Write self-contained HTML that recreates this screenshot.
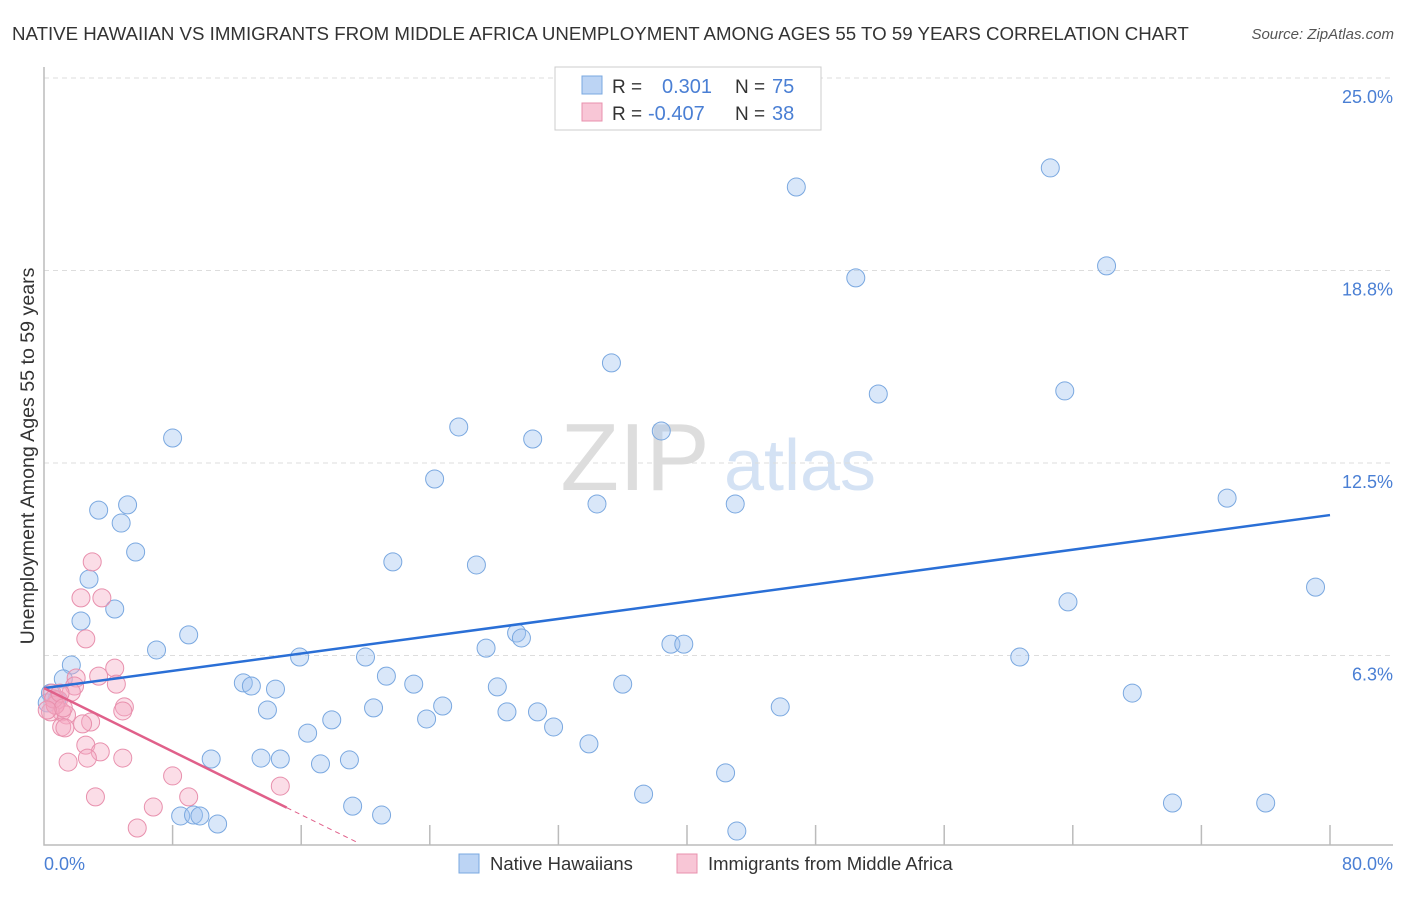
<!DOCTYPE html>
<html><head><meta charset="utf-8"><style>
body{margin:0;background:#fff;font-family:"Liberation Sans",sans-serif}
svg text{font-family:"Liberation Sans",sans-serif}
</style></head><body>
<svg id="c" width="1406" height="892">
<text x="12" y="40" font-size="18.7" fill="#333">NATIVE HAWAIIAN VS IMMIGRANTS FROM MIDDLE AFRICA UNEMPLOYMENT AMONG AGES 55 TO 59 YEARS CORRELATION CHART</text>
<text x="1394" y="39" font-size="15" fill="#555" text-anchor="end" font-style="italic">Source: ZipAtlas.com</text>
<g><text x="635" y="490" font-size="96" fill="#ddd" text-anchor="middle" font-family="Liberation Serif">ZIP</text><text x="800" y="490" font-size="72" fill="#d4e2f4" text-anchor="middle">atlas</text></g>
<g id="grid"></g><g id="axes"></g><g id="pts"></g><g id="trend"></g>
<text transform="translate(34,456) rotate(-90)" font-size="19.6" fill="#333" text-anchor="middle">Unemployment Among Ages 55 to 59 years</text>
<text x="44" y="870" font-size="18" fill="#4a7fd4">0.0%</text>
<text x="1393" y="870" font-size="18" fill="#4a7fd4" text-anchor="end">80.0%</text>
<g>
<rect x="555" y="67" width="266" height="63" fill="#fff" stroke="#ccc"/>
<rect x="582" y="76" width="20" height="18" fill="#bcd4f4" stroke="#7aa8e0"/>
<rect x="582" y="103" width="20" height="18" fill="#f8c6d6" stroke="#e890ad"/>
<text x="612" y="93" font-size="19" fill="#333">R =</text><text x="662" y="93" font-size="20" fill="#4a7fd4">0.301</text>
<text x="735" y="93" font-size="19" fill="#333">N =</text><text x="772" y="93" font-size="20" fill="#4a7fd4">75</text>
<text x="612" y="120" font-size="19" fill="#333">R =</text><text x="648" y="120" font-size="20" fill="#4a7fd4">-0.407</text>
<text x="735" y="120" font-size="19" fill="#333">N =</text><text x="772" y="120" font-size="20" fill="#4a7fd4">38</text>
</g>
<g>
<rect x="459" y="854" width="20" height="19" fill="#bcd4f4" stroke="#7aa8e0"/>
<text x="490" y="870" font-size="18.5" fill="#333">Native Hawaiians</text>
<rect x="677" y="854" width="20" height="19" fill="#f8c6d6" stroke="#e890ad"/>
<text x="708" y="870" font-size="18.5" fill="#333">Immigrants from Middle Africa</text>
</g>
</svg>
<script>
const blueX=[46.8,62.6,66.1,50.5,35.3,51.9,63.5,8.0,25.8,30.4,38.4,24.3,3.4,5.2,4.8,34.4,43.0,73.6,5.7,21.7,26.9,2.8,4.4,2.3,63.7,79.1,9.0,7.0,29.4,29.7,27.5,39.0,39.8,15.9,20.0,60.7,1.7,1.2,21.3,12.4,12.9,14.4,23.0,28.2,36.0,67.7,0.4,0.8,0.2,13.9,20.5,24.8,45.8,28.8,30.7,17.9,23.8,31.7,16.4,33.9,10.4,13.5,14.7,17.2,19.0,42.4,37.3,70.2,76.0,19.2,21.0,8.5,9.3,9.7,10.8,43.1];
const blueY=[21.46,22.08,18.90,18.51,15.75,14.74,14.84,13.31,13.67,13.28,13.54,11.98,10.97,11.14,10.55,11.17,11.17,11.36,9.61,9.29,9.19,8.73,7.76,7.37,7.99,8.47,6.92,6.43,6.98,6.82,6.49,6.62,6.62,6.20,6.20,6.20,5.94,5.49,5.58,5.36,5.26,5.16,5.32,5.23,5.32,5.03,5.03,4.81,4.71,4.48,4.55,4.61,4.58,4.42,4.42,4.16,4.19,3.93,3.73,3.38,2.89,2.92,2.89,2.73,2.86,2.44,1.75,1.46,1.46,1.36,1.07,1.04,1.07,1.04,0.78,0.55];
const pinkX=[3.0,2.3,3.6,2.6,4.4,3.4,2.0,4.5,1.9,1.7,0.5,0.9,0.7,1.1,0.4,1.4,5.0,4.9,2.9,2.4,1.1,1.3,2.6,3.5,2.7,4.9,1.5,8.0,14.7,3.2,9.0,6.8,5.8,0.7,0.6,1.0,1.2,0.2];
const pinkY=[9.29,8.12,8.12,6.79,5.84,5.58,5.52,5.32,5.26,5.06,5.03,4.81,4.64,4.42,4.42,4.32,4.58,4.45,4.09,4.03,3.93,3.90,3.34,3.12,2.92,2.92,2.79,2.34,2.01,1.66,1.66,1.33,0.65,4.64,4.84,5.03,4.55,4.48];
const yTicks=[6.25,12.5,18.75,25];
const yTickLabels=["6.3%","12.5%","18.8%","25.0%"];
const xTicks=[8,16,24,32,40,48,56,64,72,80];
const blueTrend=[5.19,10.81];
const pinkTrend=[5.19,-0.257];
const X0=44,X1=1330,Y0=848,Y25=78;
const sx=v=>X0+(X1-X0)*v/80, sy=v=>Y0-(Y0-Y25)*v/25;
const NS="http://www.w3.org/2000/svg";
function mk(p,t,a){const e=document.createElementNS(NS,t);for(const k in a)e.setAttribute(k,a[k]);document.getElementById(p).appendChild(e);return e;}
yTicks.forEach((t,i)=>{
 const l=mk('grid','line',{x1:44,x2:1393,y1:sy(t),y2:sy(t),stroke:'#ddd','stroke-dasharray':'5,4'});
 
 
 const tx=mk('grid','text',{x:1393,y:sy(t)+25,'font-size':18,fill:'#4a7fd4','text-anchor':'end'});
 tx.textContent=yTickLabels[i];
 
 
});
const ax=mk('axes','path',{d:'M44,67V845H1393',fill:'none',stroke:'#bbb','stroke-width':1.5});


xTicks.forEach(t=>{
 const l=mk('axes','line',{x1:sx(t),x2:sx(t),y1:825,y2:845,stroke:'#bbb','stroke-width':1.5});
 
 
});
blueX.forEach((x,i)=>{
 const c=mk('pts','circle',{cx:sx(x),cy:sy(blueY[i]),r:9,fill:'rgba(160,196,240,0.4)',stroke:'#7aa8e0','stroke-width':1});
 
 
});
pinkX.forEach((x,i)=>{
 const c=mk('pts','circle',{cx:sx(x),cy:sy(pinkY[i]),r:9,fill:'rgba(245,170,195,0.4)',stroke:'#e890ad','stroke-width':1});
 
 
});
const bt=mk('trend','line',{x1:sx(0),y1:sy(blueTrend[0]),x2:sx(80),y2:sy(blueTrend[1]),stroke:'#2a6fd6','stroke-width':2.5});


const pf=x=>pinkTrend[0]+pinkTrend[1]*x;
const pt=mk('trend','line',{x1:sx(0),y1:sy(pf(0)),x2:sx(15.1),y2:sy(pf(15.1)),stroke:'#e0608a','stroke-width':2.5});


const pd=mk('trend','line',{x1:sx(15.1),y1:sy(pf(15.1)),x2:sx(19.6),y2:sy(pf(19.6)),stroke:'#e0608a','stroke-width':1,'stroke-dasharray':'5,4'});


</script>
</body></html>
